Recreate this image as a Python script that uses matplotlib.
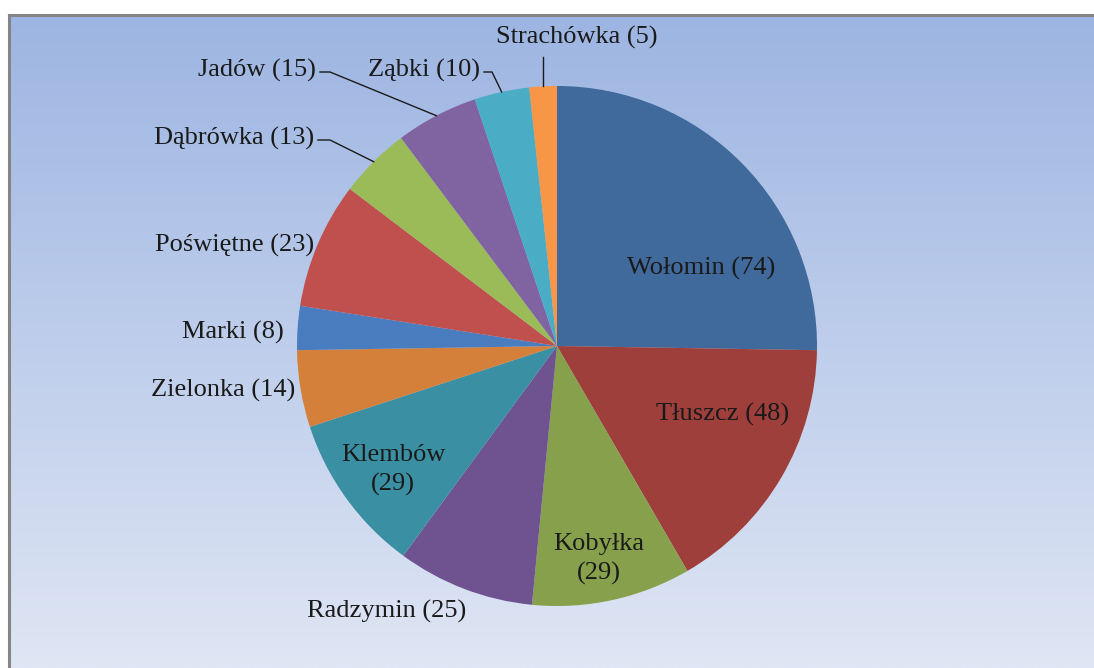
import matplotlib

matplotlib.use("Agg")

import matplotlib.pyplot as plt
import numpy as np
from matplotlib.colors import LinearSegmentedColormap
from matplotlib.patches import Wedge

# data (clockwise from 12 o'clock)
names = ["Wołomin", "Tłuszcz", "Kobyłka", "Radzymin", "Klembów", "Zielonka",
         "Marki", "Poświętne", "Dąbrówka", "Jadów", "Ząbki", "Strachówka"]
values = [74, 48, 29, 25, 29, 14, 8, 23, 13, 15, 10, 5]
colors = ["#40699C", "#9E3F3C", "#87A04B", "#6E5390", "#3B8FA3", "#D4803A",
          "#4A7DC0", "#C0504D", "#9BBB59", "#8064A2", "#4BACC6", "#F79646"]

W, H, DPI = 1094, 668, 100
CX, CY, R = 557, 346, 260

# label layout in pixel coords (x, y from top), alignment, two-line, leader elbow
label_pos = [
    (701, 268, "center", False, None),
    (723, 414, "center", False, None),
    (599, 559, "center", True, None),
    (387, 611, "center", False, None),
    (393, 470, "center", True, None),
    (295, 390, "right", False, None),
    (284, 332, "right", False, None),
    (314, 245, "right", False, None),
    (314, 138, "right", False, (330, 140)),
    (316, 70, "right", False, (330, 72)),
    (480, 70, "right", False, (492, 72)),
    (577, 37, "center", False, "vertical"),
]

fig = plt.figure(figsize=(W / DPI, H / DPI), dpi=DPI, facecolor="white")

# gradient chart area
bg = fig.add_axes([9 / W, 0, 1 - 9 / W, (H - 15) / H])
grad = np.linspace(0, 1, 256).reshape(-1, 1)
cmap_bg = LinearSegmentedColormap.from_list("bg", ["#9DB5E2", "#DFE6F4"])
bg.imshow(grad, aspect="auto", cmap=cmap_bg, extent=[0, 1, 0, 1], origin="upper")
bg.set_xlim(0, 1)
bg.set_ylim(0, 1)
bg.axis("off")
fig.add_artist(plt.Line2D([9 / W, 1], [(H - 15) / H] * 2, transform=fig.transFigure,
                          color="#858585", linewidth=2.2))
fig.add_artist(plt.Line2D([9 / W] * 2, [0, (H - 15) / H], transform=fig.transFigure,
                          color="#858585", linewidth=2.2))

ax = fig.add_axes([0, 0, 1, 1])
ax.set_xlim(0, W)
ax.set_ylim(H, 0)
ax.set_aspect("equal")
ax.axis("off")

total = sum(values)
cum = 0
mids = []
for v, c in zip(values, colors):
    a0 = cum / total * 360
    a1 = (cum + v) / total * 360
    # y axis points down, so wedge angles run clockwise; top is -90
    ax.add_patch(Wedge((CX, CY), R, -90 + a0, -90 + a1, facecolor=c, edgecolor="none"))
    mids.append((a0 + a1) / 2)
    cum += v

font = dict(family=["Liberation Serif", "DejaVu Serif"], fontsize=19, color="#1a1a1a")
for name, v, mid, (lx, ly, ha, multi, leader) in zip(names, values, mids, label_pos):
    txt = f"{name}\n({v})" if multi else f"{name} ({v})"
    ax.text(lx, ly, txt, ha=ha, va="center", linespacing=1.35, **font)
    if leader is None:
        continue
    th = np.deg2rad(mid)
    ex, ey = CX + R * np.sin(th), CY - R * np.cos(th)
    if leader == "vertical":
        ax.plot([ex, ex], [ey, ly + 20], color="#1a1a1a", lw=1)
    else:
        ax.plot([lx + 4, leader[0], ex], [ly + 2, leader[1], ey], color="#1a1a1a", lw=1)

fig.savefig("out.png", dpi=DPI, facecolor="white")
